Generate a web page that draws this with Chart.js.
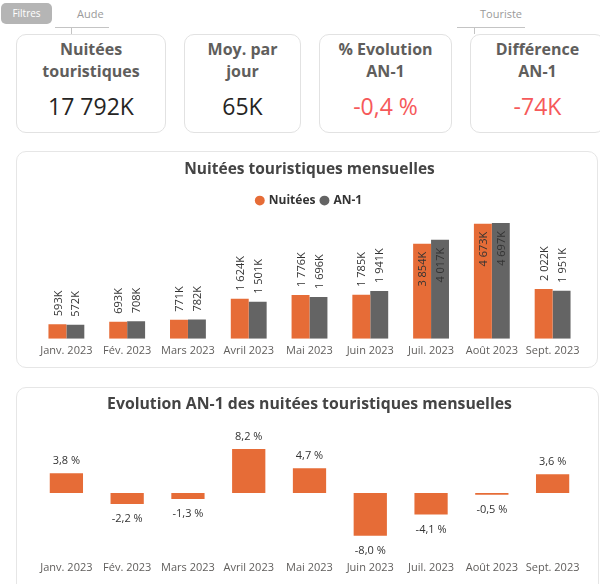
<!DOCTYPE html>
<html lang="fr">
<head>
<meta charset="utf-8">
<script src="https://cdn.jsdelivr.net/npm/chart.js@4"></script>
<style>
  body { margin: 0; width: 600px; height: 584px; overflow: hidden; background: #fff;
         font-family: "Segoe UI", "Open Sans", sans-serif; position: relative; }
  .abs { position: absolute; }
  .btn { left: 1px; top: 3px; width: 51px; height: 21px; background: #b5b5b5; border-radius: 5px;
         color: #fff; font-size: 10px; line-height: 21px; text-align: center; }
  .slicer { font-size: 11px; color: #9a9a9a; }
  .hline { height: 1px; background: #c4c4c4; }
  .vline { width: 1px; background: #c4c4c4; }
  .kpi { top: 34px; height: 97px; border: 1px solid #e2e2e2; border-radius: 10px; text-align: center; background: #fff; }
  .kpi .t { margin-top: 3px; font-size: 16px; font-weight: 700; color: #605e5c; line-height: 22px; }
  .kpi .v { margin-top: 10px; font-size: 23px; color: #252423; line-height: 28px; }
  .kpi .neg { color: #f6595a; }
  .card { border: 1px solid #e6e6e6; border-radius: 10px; background: #fff; }
  canvas { position: absolute; }
</style>
</head>
<body>
<div class="abs btn">Filtres</div>
<div class="abs slicer" style="left:77px;top:6px;">Aude</div>
<div class="abs hline" style="left:55px;top:27px;width:54px;"></div>
<div class="abs vline" style="left:71px;top:27px;height:7px;"></div>
<div class="abs slicer" style="left:480px;top:6px;">Touriste</div>
<div class="abs hline" style="left:457px;top:27px;width:68px;"></div>
<div class="abs vline" style="left:474px;top:27px;height:7px;"></div>

<div class="abs kpi" style="left:16px;width:148px;"><div class="t">Nuitées<br>touristiques</div><div class="v">17 792K</div></div>
<div class="abs kpi" style="left:184px;width:115px;"><div class="t">Moy. par<br>jour</div><div class="v">65K</div></div>
<div class="abs kpi" style="left:319px;width:131px;"><div class="t">% Evolution<br>AN-1</div><div class="v neg">-0,4 %</div></div>
<div class="abs kpi" style="left:470px;width:133px;"><div class="t">Différence<br>AN-1</div><div class="v neg">-74K</div></div>

<div class="abs card" style="left:16px;top:151px;width:580px;height:215px;"></div>
<div class="abs card" style="left:16px;top:387px;width:581px;height:210px;"></div>
<canvas id="bar-chart" width="582" height="217" style="left:16px;top:151px;"></canvas>
<canvas id="evo-chart" width="583" height="197" style="left:16px;top:387px;"></canvas>

<script>
// données (en milliers de nuitées)
const mois = ['Janv. 2023', 'Fév. 2023', 'Mars 2023', 'Avril 2023', 'Mai 2023', 'Juin 2023', 'Juil. 2023', 'Août 2023', 'Sept. 2023'];
const nuitees = [593, 693, 771, 1624, 1776, 1785, 3854, 4673, 2022];
const an1 = [572, 708, 782, 1501, 1696, 1941, 4017, 4697, 1951];
const evolution = [3.8, -2.2, -1.3, 8.2, 4.7, -8.0, -4.1, -0.5, 3.6];

const ORANGE = '#E66C37';
const GRIS = '#646464';
const FONT = '"Segoe UI", "Open Sans", sans-serif';

Chart.defaults.font.family = FONT;
Chart.defaults.color = '#605e5c';

function fmtK(v) {
    let s = String(v);
    if (v >= 1000) s = Math.floor(v / 1000) + ' ' + String(v % 1000).padStart(3, '0');
    return s + 'K';
}

/*** étiquettes verticales sur les barres ***/
const barLabels = {
    id: 'barLabels',
    afterDatasetsDraw(chart) {
        const ctx = chart.ctx;
        const top = chart.chartArea.top;
        ctx.save();
        ctx.font = '11px ' + FONT;
        ctx.fillStyle = '#333';
        ctx.textBaseline = 'middle';
        chart.data.datasets.forEach((ds, i) => {
            chart.getDatasetMeta(i).data.forEach((bar, j) => {
                const txt = fmtK(ds.data[j]);
                const w = ctx.measureText(txt).width;
                ctx.save();
                if (bar.y - 8 - w < top) {
                    ctx.translate(bar.x + 1, bar.y + 8);
                    ctx.rotate(-Math.PI / 2);
                    ctx.textAlign = 'right';
                } else {
                    ctx.translate(bar.x + 1, bar.y - 8);
                    ctx.rotate(-Math.PI / 2);
                    ctx.textAlign = 'left';
                }
                ctx.fillText(txt, 0, 0);
                ctx.restore();
            });
        });
        ctx.restore();
    }
};

const barChart = new Chart(document.getElementById('bar-chart'), {
    type: 'bar',
    data: {
        labels: mois,
        datasets: [
            { label: 'Nuitées', data: nuitees, backgroundColor: ORANGE },
            { label: 'AN-1', data: an1, backgroundColor: GRIS }
        ]
    },
    options: {
        responsive: false,
        animation: false,
        layout: { padding: { left: 20, right: 15, top: 0, bottom: 6 } },
        datasets: { bar: { categoryPercentage: 0.59, barPercentage: 1 } },
        plugins: {
            title: {
                display: true,
                text: 'Nuitées touristiques mensuelles',
                color: '#444',
                font: { size: 15.5, weight: 'bold' },
                padding: { top: 9, bottom: 10 }
            },
            legend: {
                position: 'top',
                labels: {
                    usePointStyle: true,
                    pointStyle: 'circle',
                    boxWidth: 6,
                    boxHeight: 7,
                    padding: 6,
                    color: '#333',
                    font: { size: 12, weight: 'bold' }
                }
            },
            tooltip: { enabled: false }
        },
        scales: {
            x: {
                grid: { display: false, drawTicks: false },
                border: { display: false },
                ticks: { font: { size: 11 }, color: '#605e5c', padding: 5, maxRotation: 0, autoSkip: false }
            },
            y: { display: false, min: 0, max: 4960 }
        }
    },
    plugins: [barLabels]
});

/*** étiquettes % ***/
const evoLabels = {
    id: 'evoLabels',
    afterDatasetsDraw(chart) {
        const ctx = chart.ctx;
        ctx.save();
        ctx.font = '11px ' + FONT;
        ctx.fillStyle = '#333';
        ctx.textAlign = 'center';
        ctx.textBaseline = 'middle';
        chart.getDatasetMeta(0).data.forEach((bar, j) => {
            const v = evolution[j];
            const txt = v.toFixed(1).replace('.', ',') + ' %';
            const y = v >= 0 ? bar.y - 11 : bar.y + 14;
            ctx.fillText(txt, bar.x, y);
        });
        ctx.restore();
    }
};

const evoChart = new Chart(document.getElementById('evo-chart'), {
    type: 'bar',
    data: {
        labels: mois,
        datasets: [
            { label: 'Evolution', data: evolution, backgroundColor: ORANGE, borderColor: 'rgba(255,255,255,0.45)', borderWidth: 1 }
        ]
    },
    options: {
        responsive: false,
        animation: false,
        layout: { padding: { left: 20, right: 16, top: 0, bottom: 5 } },
        datasets: { bar: { categoryPercentage: 0.58, barPercentage: 1 } },
        plugins: {
            title: {
                display: true,
                text: 'Evolution AN-1 des nuitées touristiques mensuelles',
                color: '#444',
                font: { size: 15.8, weight: 'bold' },
                padding: { top: 8, bottom: 9 }
            },
            legend: { display: false },
            tooltip: { enabled: false }
        },
        scales: {
            x: {
                grid: { display: false, drawTicks: false },
                border: { display: false },
                ticks: { font: { size: 11 }, color: '#605e5c', padding: 5, maxRotation: 0, autoSkip: false }
            },
            y: { display: false, min: -11.46, max: 12.77 }
        }
    },
    plugins: [evoLabels]
});
</script>
</body>
</html>
